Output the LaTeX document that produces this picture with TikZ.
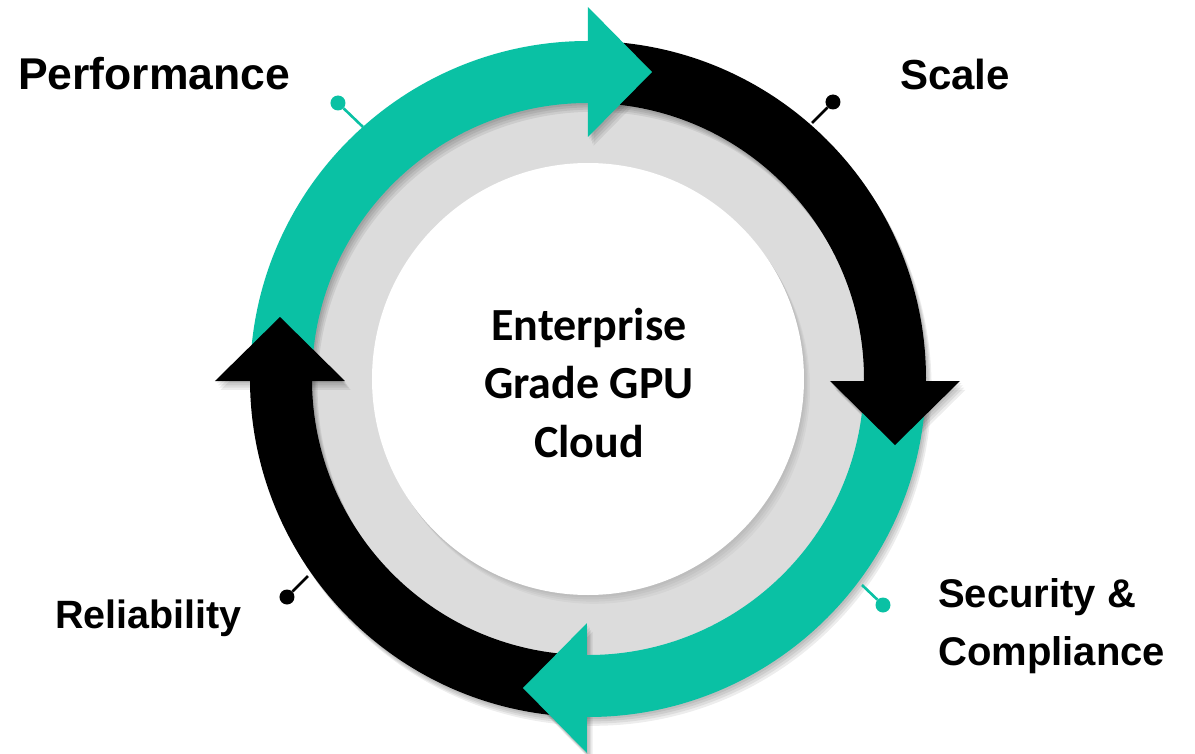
\documentclass[tikz,border=0pt]{standalone}
\usepackage{fontspec}
\setmainfont{Liberation Sans}
\newfontfamily\centerfont{Carlito}
\definecolor{cyclegreen}{RGB}{10,193,164}
\definecolor{ringgray}{RGB}{220,220,220}
\tikzset{
  x=1pt, y=1pt,
  pindot/.style={circle, inner sep=0pt, minimum size=15pt},
  pinline/.style={line width=2.6pt},
  sidetext/.style={inner sep=0pt, anchor=base west, font=\bfseries\fontsize{40}{46}\selectfont},
  titletext/.style={inner sep=0pt, anchor=base, font=\centerfont\bfseries\fontsize{46}{58}\selectfont},
}
% annular sector between two angles (clockwise), outer radius 338, inner 276
\newcommand\bandsector[2]{(#1:338) arc[start angle=#1, end angle=#2, radius=338]
  -- (#2:276) arc[start angle=#2, end angle=#1, radius=276] -- cycle}
\begin{document}
\begin{tikzpicture}
\useasboundingbox (-588,-374) rectangle (607,379);

% grey track and the raised white centre disc
\fill[ringgray] (0,0) circle[radius=282];
\foreach \k in {1,...,4}
  \fill[black, opacity=0.035] (1.5*\k,-2.2*\k) circle[radius=216];
\fill[white] (0,0) circle[radius=216];

% soft drop shadow under the cycle arrows
\foreach \k in {1,...,4}{
  \begin{scope}[shift={(1.4*\k,-2.2*\k)}]
    \fill[black, opacity=0.07, even odd rule] (0,0) circle[radius=338] (0,0) circle[radius=276];
    \fill[black, opacity=0.07] (0,242) -- (0,372) -- (64,307) -- cycle;
    \fill[black, opacity=0.07] (242,-2) -- (372,-2) -- (307,-66) -- cycle;
    \fill[black, opacity=0.07] (-1,-244) -- (-1,-374) -- (-65,-309) -- cycle;
    \fill[black, opacity=0.07] (-243,-2) -- (-373,-2) -- (-308,62) -- cycle;
  \end{scope}
}

% four quarter bands; each runs a little past its arrowhead base,
% and its tail sits hidden under the previous arrowhead
\fill[cyclegreen] \bandsector{178}{88};
\fill[black] \bandsector{88}{-2};
\fill[cyclegreen] \bandsector{-2}{-92};
\fill[black] \bandsector{-92}{-182};

% arrowheads
\fill[cyclegreen] (0,242) -- (0,372) -- (64,307) -- cycle;
\fill[black] (242,-2) -- (372,-2) -- (307,-66) -- cycle;
\fill[cyclegreen] (-1,-244) -- (-1,-374) -- (-65,-309) -- cycle;
\fill[black] (-243,-2) -- (-373,-2) -- (-308,62) -- cycle;

% label pins
\node[pindot, fill=cyclegreen] (dperf) at (-250,276) {};
\coordinate (eperf) at (-225,252);
\draw[pinline, cyclegreen] (dperf) -- (eperf);

\node[pindot, fill=black] (dscale) at (245,277) {};
\coordinate (escale) at (224,256);
\draw[pinline, black] (dscale) -- (escale);

\node[pindot, fill=black] (drel) at (-301,-218) {};
\coordinate (erel) at (-280,-197);
\draw[pinline, black] (drel) -- (erel);

\node[pindot, fill=cyclegreen] (dsec) at (295,-226) {};
\coordinate (esec) at (274,-206);
\draw[pinline, cyclegreen] (dsec) -- (esec);

% labels
\node[sidetext, font=\bfseries\fontsize{44.5}{50}\selectfont] (perf) at (-570,289) {Performance};
\node[sidetext, font=\bfseries\fontsize{42}{48}\selectfont] (scale) at (312,289) {Scale};
\node[sidetext, font=\bfseries\fontsize{39.5}{46}\selectfont] (rel) at (-533,-249) {Reliability};
\node[sidetext] (sec1) at (350,-228) {Security \&};
\node[sidetext] (sec2) at (350,-286) {Compliance};

% centre title
\node[titletext] (t1) at (1,39) {Enterprise};
\node[titletext] (t2) at (1,-19) {Grade GPU};
\node[titletext] (t3) at (1,-78) {Cloud};
\end{tikzpicture}
\end{document}
